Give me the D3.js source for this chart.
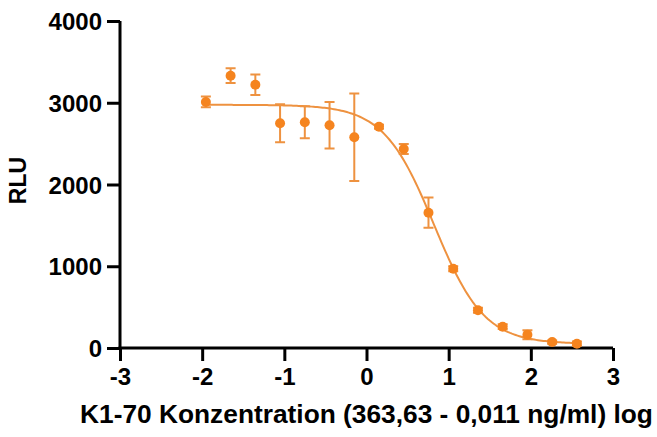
<!DOCTYPE html>
<html>
<head>
<meta charset="utf-8">
<script src="https://cdn.jsdelivr.net/npm/d3@7"></script>
<style>
  html, body { margin: 0; padding: 0; background: #fff; }
  svg text { font-family: Arial, "Liberation Sans", sans-serif; font-weight: bold; fill: #000; }
</style>
</head>
<body>
<svg id="chart"></svg>
<script>
// log10 concentration (ng/ml), 1:2 dilution from 363.63 down to 0.011
const logConc = [2.5606, 2.2596, 1.9585, 1.6575, 1.3565, 1.0554, 0.7544, 0.4534,
                 0.1523, -0.1487, -0.4497, -0.7508, -1.0518, -1.3528, -1.6539, -1.9549];
const rluMean = [53, 73, 163, 261, 461, 970, 1655, 2434,
                 2707, 2577, 2724, 2761, 2749, 3221, 3331, 3010];
const rluSD   = [25, 20, 55, 30, 30, 30, 185, 60,
                 25, 535, 285, 195, 233, 125, 90, 65];

const xTicks = [-3, -2, -1, 0, 1, 2, 3];
const yTicks = [0, 1000, 2000, 3000, 4000];

// 4PL fit (top, bottom, logIC50, hill slope)
const fitTop = 2975, fitBottom = 50, fitLogIC50 = 0.82, fitHill = 1.42;

const width = 657, height = 437;
const margin = {top: 21, right: 44, bottom: 89, left: 120};
const orange = '#f5841f';
const lineOrange = '#ee9240';

const svg = d3.select('#chart')
    .attr('width', width)
    .attr('height', height);

const chart = svg.append('g')
    .attr('transform', `translate(${margin.left}, ${margin.top})`);

const innerW = width - margin.left - margin.right;
const innerH = height - margin.top - margin.bottom;

const x = d3.scaleLinear().domain([-3, 3]).range([0, innerW]);
const y = d3.scaleLinear().domain([0, 4000]).range([innerH, 0]);

const xAxis = d3.axisBottom(x).tickValues(xTicks).tickFormat(d => String(d))
    .tickSize(13).tickSizeOuter(0).tickPadding(4);
const yAxis = d3.axisLeft(y).tickValues(yTicks).tickFormat(d => String(d))
    .tickSize(13).tickSizeOuter(0).tickPadding(5);

const gx = chart.append('g')
    .attr('transform', `translate(0, ${innerH})`)
    .call(xAxis);
const gy = chart.append('g').call(yAxis);

[gx, gy].forEach(g => {
    g.select('.domain').attr('stroke', '#000').attr('stroke-width', 3);
    g.selectAll('.tick line').attr('stroke', '#000').attr('stroke-width', 3);
    g.selectAll('.tick text')
        .attr('font-size', 24)
        .attr('font-family', 'Arial, "Liberation Sans", sans-serif')
        .attr('font-weight', 'bold')
        .attr('fill', '#000');
});
gx.selectAll('.tick text').attr('dy', '0.82em');
gy.selectAll('.tick text').attr('dy', '0.36em');
// extend the axis lines to cover the corner
gx.select('.domain').attr('d', `M-1.5,0H${innerW}`);
gy.select('.domain').attr('d', `M0,${innerH + 1.5}V0`);

// fitted curve
const xs = d3.range(201).map(i => d3.min(logConc) + i * (d3.max(logConc) - d3.min(logConc)) / 200);
const fit = v => fitBottom + (fitTop - fitBottom) / (1 + Math.pow(10, (v - fitLogIC50) * fitHill));
chart.append('path')
    .datum(xs)
    .attr('d', d3.line().x(d => x(d)).y(d => y(fit(d))))
    .attr('fill', 'none')
    .attr('stroke', lineOrange)
    .attr('stroke-width', 2);

const pts = logConc.map((v, i) => ({x: v, y: rluMean[i], sd: rluSD[i]}));

// error bars
const eb = chart.append('g').attr('stroke', lineOrange).attr('stroke-width', 2).attr('fill', 'none');
eb.selectAll('path')
    .data(pts)
    .enter()
    .append('path')
    .attr('d', d => {
        const cx = x(d.x), y0 = y(d.y - d.sd), y1 = y(d.y + d.sd);
        return `M${cx - 5},${y1}H${cx + 5}M${cx},${y1}V${y0}M${cx - 5},${y0}H${cx + 5}`;
    });

chart.selectAll('circle')
    .data(pts)
    .enter()
    .append('circle')
    .attr('cx', d => x(d.x))
    .attr('cy', d => y(d.y))
    .attr('r', 5)
    .attr('fill', orange);

// axis titles
svg.append('text')
    .attr('x', margin.left + innerW / 2)
    .attr('y', 423)
    .attr('text-anchor', 'middle')
    .attr('font-size', 26.3)
    .text('K1-70 Konzentration (363,63 - 0,011 ng/ml) log');

svg.append('text')
    .attr('transform', `translate(26, ${margin.top + innerH / 2 - 4}) rotate(-90)`)
    .attr('text-anchor', 'middle')
    .attr('font-size', 23)
    .text('RLU');
</script>
</body>
</html>
